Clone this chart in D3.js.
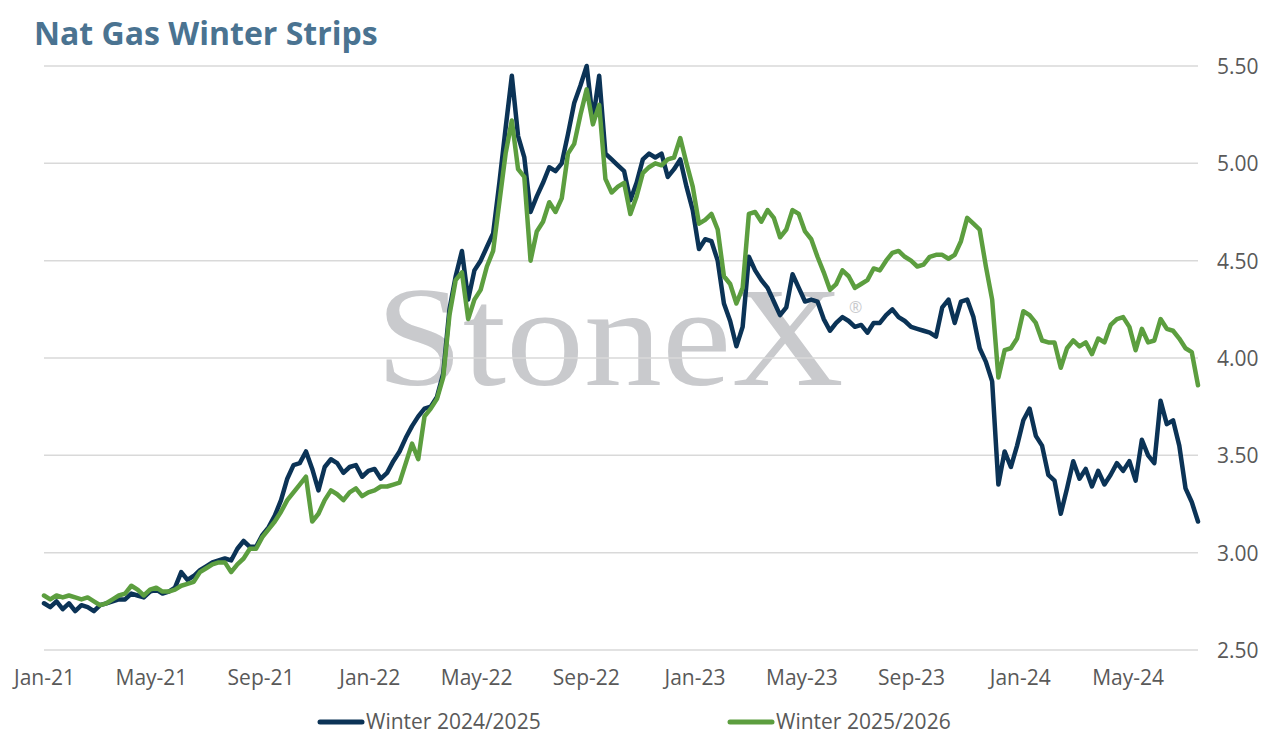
<!DOCTYPE html>
<html>
<head>
<meta charset="utf-8">
<script src="https://cdn.jsdelivr.net/npm/d3@7"></script>
<style>
  html, body { margin: 0; padding: 0; background: #ffffff; }
  svg { display: block; }
</style>
</head>
<body>
<svg id="chart" width="1272" height="743"></svg>
<script>
// ---------------- DATA ----------------
const chartTitle = "Nat Gas Winter Strips";
const seriesNames = ["Winter 2024/2025", "Winter 2025/2026"];
const startDate = "2021-01-01";      // first weekly observation
const stepDays = 7;                  // weekly observations
const endDate = "2024-07-19";        // axis end

const winter2425 = [
  2.74,2.72,2.75,2.71,2.74,2.70,2.73,2.72,2.70,2.73,
  2.74,2.75,2.76,2.76,2.79,2.78,2.77,2.80,2.81,2.79,
  2.80,2.82,2.90,2.86,2.88,2.91,2.93,2.95,2.96,2.97,
  2.96,3.02,3.06,3.03,3.03,3.09,3.13,3.19,3.27,3.38,
  3.45,3.46,3.52,3.43,3.32,3.44,3.48,3.46,3.41,3.44,
  3.45,3.39,3.42,3.43,3.38,3.41,3.47,3.52,3.59,3.65,
  3.70,3.74,3.75,3.80,3.92,4.25,4.42,4.55,4.30,4.45,
  4.50,4.57,4.64,4.90,5.18,5.45,5.14,5.03,4.75,4.83,
  4.90,4.98,4.96,5.00,5.15,5.31,5.40,5.50,5.22,5.45,
  5.05,5.02,4.99,4.96,4.81,4.90,5.02,5.05,5.03,5.05,
  4.93,4.97,5.02,4.88,4.76,4.56,4.61,4.60,4.50,4.28,
  4.19,4.06,4.16,4.52,4.45,4.40,4.36,4.29,4.22,4.26,
  4.43,4.36,4.29,4.30,4.29,4.20,4.14,4.18,4.21,4.19,
  4.16,4.17,4.13,4.18,4.18,4.22,4.25,4.21,4.19,4.16,
  4.15,4.14,4.13,4.11,4.26,4.30,4.18,4.29,4.30,4.21,
  4.05,3.98,3.88,3.35,3.52,3.44,3.55,3.68,3.74,3.60,
  3.55,3.40,3.37,3.20,3.33,3.47,3.38,3.43,3.34,3.42,
  3.35,3.40,3.46,3.42,3.47,3.37,3.58,3.50,3.46,3.78,
  3.66,3.68,3.55,3.33,3.26,3.16
];

const winter2526 = [
  2.78,2.76,2.78,2.77,2.78,2.77,2.76,2.77,2.75,2.73,
  2.74,2.76,2.78,2.79,2.83,2.81,2.78,2.81,2.82,2.80,
  2.80,2.81,2.83,2.84,2.85,2.90,2.92,2.94,2.95,2.95,
  2.90,2.94,2.97,3.02,3.02,3.08,3.12,3.16,3.21,3.27,
  3.31,3.35,3.39,3.16,3.20,3.27,3.32,3.30,3.27,3.31,
  3.33,3.29,3.31,3.32,3.34,3.34,3.35,3.36,3.46,3.56,
  3.48,3.70,3.74,3.79,3.90,4.22,4.40,4.44,4.20,4.30,
  4.35,4.47,4.55,4.80,5.05,5.22,4.97,4.93,4.50,4.65,
  4.70,4.80,4.75,4.82,5.05,5.10,5.25,5.38,5.20,5.30,
  4.92,4.85,4.88,4.90,4.74,4.83,4.95,4.98,5.00,4.99,
  5.02,5.03,5.13,5.00,4.88,4.69,4.71,4.74,4.66,4.42,
  4.38,4.28,4.36,4.74,4.75,4.70,4.76,4.72,4.62,4.66,
  4.76,4.74,4.65,4.61,4.52,4.44,4.35,4.38,4.45,4.42,
  4.36,4.38,4.40,4.46,4.45,4.50,4.54,4.55,4.52,4.50,
  4.47,4.48,4.52,4.53,4.53,4.51,4.53,4.60,4.72,4.69,
  4.66,4.47,4.30,3.90,4.04,4.05,4.10,4.24,4.22,4.18,
  4.09,4.08,4.08,3.95,4.05,4.09,4.06,4.08,4.02,4.10,
  4.08,4.17,4.20,4.21,4.16,4.04,4.15,4.08,4.09,4.20,
  4.15,4.14,4.10,4.05,4.03,3.86
];

const xTickDates = ["2021-01-01","2021-05-01","2021-09-01","2022-01-01","2022-05-01","2022-09-01",
                    "2023-01-01","2023-05-01","2023-09-01","2024-01-01","2024-05-01"];
const xTickLabels = ["Jan-21","May-21","Sep-21","Jan-22","May-22","Sep-22",
                     "Jan-23","May-23","Sep-23","Jan-24","May-24"];
const yTicks = [2.5, 3.0, 3.5, 4.0, 4.5, 5.0, 5.5];

// ---------------- CHART ----------------
const parse = d3.timeParse("%Y-%m-%d");
const t0 = parse(startDate);
const dates = winter2425.map((_, i) => d3.timeDay.offset(t0, i * stepDays));

const svg = d3.select("#chart");
const colors = ["#0b3356", "#5c9e3f"];
const font = "'Open Sans', 'Noto Sans', sans-serif";
const labelSize = 21;

const x = d3.scaleTime().domain([t0, parse(endDate)]).range([44, 1198]);
const y = d3.scaleLinear().domain([2.5, 5.5]).range([650, 66]);

// title
svg.append("text")
  .attr("x", 34).attr("y", 45)
  .attr("font-family", font).attr("font-weight", 700)
  .attr("font-size", 32).attr("fill", "#4a7391")
  .text(chartTitle);

// watermark
svg.append("text")
  .attr("x", 376).attr("y", 385)
  .attr("font-family", "'Liberation Serif', 'DejaVu Serif', serif")
  .attr("font-size", 142).attr("fill", "#c9cacd")
  .attr("textLength", 468).attr("lengthAdjust", "spacingAndGlyphs")
  .text("StoneX");
svg.append("text")
  .attr("x", 849).attr("y", 313)
  .attr("font-family", font)
  .attr("font-size", 16).attr("fill", "#c9cacd")
  .text("®");

// y gridlines + labels (right axis)
const yAxis = d3.axisRight(y).tickValues(yTicks).tickSize(0).tickFormat(d3.format(".2f"));
const yg = svg.append("g").attr("transform", "translate(1198,0)").call(yAxis);
yg.select(".domain").remove();
yg.selectAll("text")
  .attr("x", 19).attr("dy", "0.35em")
  .attr("font-family", font).attr("font-size", labelSize).attr("fill", "#595959");

svg.append("g").selectAll("line").data(yTicks).join("line")
  .attr("x1", 44).attr("x2", 1198)
  .attr("y1", d => y(d)).attr("y2", d => y(d))
  .attr("stroke", "#d9d9d9").attr("stroke-width", 1.5);

// x axis labels
const xAxis = d3.axisBottom(x)
  .tickValues(xTickDates.map(parse))
  .tickSize(0)
  .tickFormat((d, i) => xTickLabels[i]);
const xg = svg.append("g").attr("transform", "translate(0,650)").call(xAxis);
xg.select(".domain").remove();
xg.selectAll("text")
  .attr("y", 28).attr("dy", "0.35em")
  .attr("font-family", font).attr("font-size", labelSize).attr("fill", "#595959");

// lines
const line = d3.line()
  .x((d, i) => x(dates[i]))
  .y(d => y(d));

[winter2425, winter2526].forEach((s, k) => {
  svg.append("path")
    .datum(s)
    .attr("d", line)
    .attr("fill", "none")
    .attr("stroke", colors[k])
    .attr("stroke-width", 4.5)
    .attr("stroke-linejoin", "round")
    .attr("stroke-linecap", "round");
});

// legend
const legendX = [320, 730];
seriesNames.forEach((name, k) => {
  const g = svg.append("g").attr("transform", `translate(${legendX[k]},722)`);
  g.append("line").attr("x1", 0).attr("x2", 42).attr("y1", 0).attr("y2", 0)
    .attr("stroke", colors[k]).attr("stroke-width", 5).attr("stroke-linecap", "round");
  g.append("text").attr("x", 46).attr("y", 0).attr("dy", "0.35em")
    .attr("font-family", font).attr("font-size", labelSize).attr("fill", "#595959")
    .text(name);
});
</script>
</body>
</html>
